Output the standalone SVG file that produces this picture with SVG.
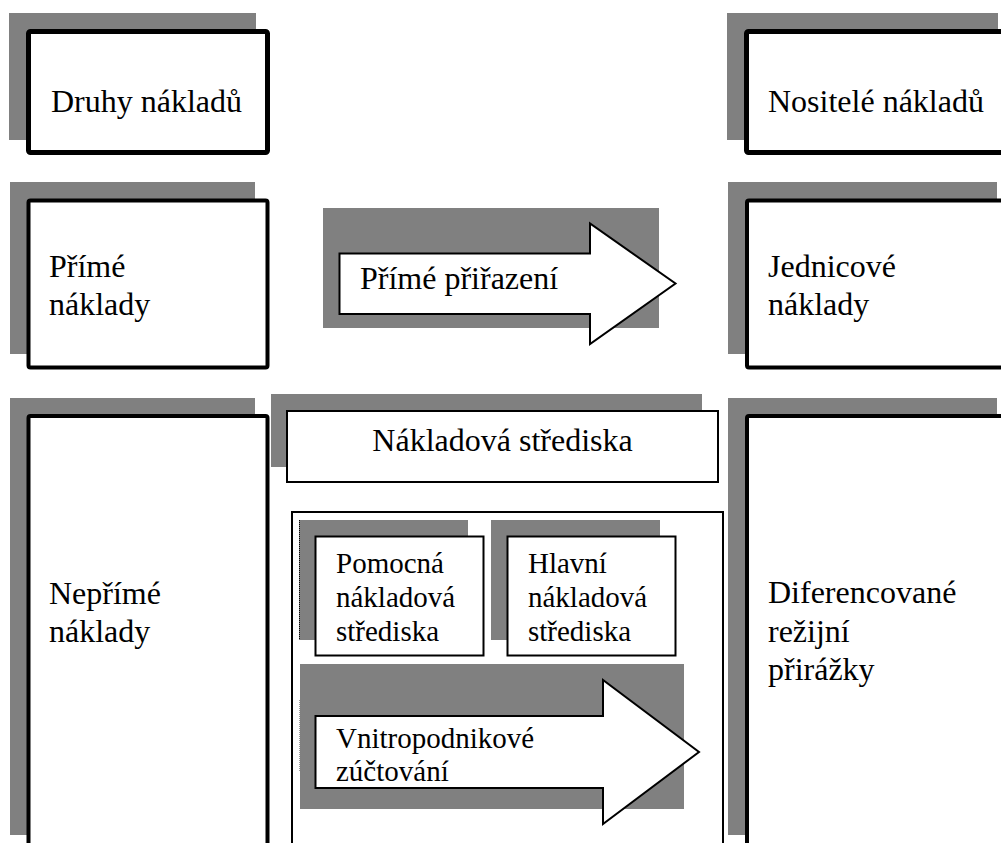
<svg xmlns="http://www.w3.org/2000/svg" width="1001" height="843" viewBox="0 0 1001 843">
<style>
.sh{fill:#808080;stroke:none}
.bx{fill:#fff;stroke:#000}
.b5{stroke-width:5}
.b4{stroke-width:4}
.b2{stroke-width:2}
.t{font-family:'Liberation Serif',Tinos,'Times New Roman','DejaVu Serif',serif;font-size:32px;fill:#000}
.s{font-family:'Liberation Serif',Tinos,'Times New Roman','DejaVu Serif',serif;font-size:29px;fill:#000}
</style>
<rect width="1001" height="843" fill="#fff"/>
<g id="druhy">
<rect class="sh" x="9" y="13" width="247" height="127"/>
<rect class="bx b5" x="28.5" y="31.5" width="239" height="121" rx="2"/>
<text class="t" x="51" y="112">Druhy nákladů</text>
</g>
<g id="nositele">
<rect class="sh" x="727" y="13" width="271" height="127"/>
<rect class="bx b5" x="746.5" y="31.5" width="270" height="121" rx="2"/>
<text class="t" x="768" y="112">Nositelé nákladů</text>
</g>
<g id="prime">
<rect class="sh" x="10" y="182" width="245" height="172"/>
<rect class="bx b4" x="28.5" y="200.5" width="239" height="167" rx="2"/>
<text class="t" x="49" y="277">Přímé</text>
<text class="t" x="49" y="315">náklady</text>
</g>
<g id="jednicove">
<rect class="sh" x="728" y="182" width="269" height="172"/>
<rect class="bx b4" x="747" y="200.5" width="270" height="167" rx="2"/>
<text class="t" x="768" y="277">Jednicové</text>
<text class="t" x="768" y="315">náklady</text>
</g>
<g id="neprime">
<rect class="sh" x="10" y="398" width="245" height="437"/>
<rect class="bx b4" x="28.5" y="416" width="239" height="440" rx="2"/>
<text class="t" x="49" y="604">Nepřímé</text>
<text class="t" x="49" y="642">náklady</text>
</g>
<g id="diferencovane">
<rect class="sh" x="728" y="398" width="269" height="437"/>
<rect class="bx b4" x="747" y="416" width="270" height="440" rx="2"/>
<text class="t" x="768" y="603">Diferencované</text>
<text class="t" x="768" y="642">režijní</text>
<text class="t" x="768" y="680">přirážky</text>
</g>
<g id="strediska">
<rect class="sh" x="271" y="394" width="431" height="73"/>
<rect class="bx b2" x="287" y="411" width="431" height="71"/>
<text class="t" x="502.5" y="451" text-anchor="middle">Nákladová střediska</text>
</g>
<g id="kontejner">
<rect class="bx b2" x="292" y="512" width="431" height="345"/>
</g>
<g id="pomocna">
<rect class="sh" x="299" y="520" width="169" height="120"/>
<line x1="299.5" y1="520" x2="299.5" y2="640" stroke="#000" stroke-width="1" stroke-dasharray="1 1"/>
<rect class="bx b2" x="315.5" y="536.5" width="168" height="119"/>
<text class="s" x="336" y="573">Pomocná</text>
<text class="s" x="336" y="607">nákladová</text>
<text class="s" x="336" y="641">střediska</text>
</g>
<g id="hlavni">
<rect class="sh" x="491" y="520" width="169" height="120"/>
<rect class="bx b2" x="507.5" y="536.5" width="168" height="119"/>
<text class="s" x="528" y="573">Hlavní</text>
<text class="s" x="528" y="607">nákladová</text>
<text class="s" x="528" y="641">střediska</text>
</g>
<g id="connectors">
<g id="prime-prirazeni">
<rect class="sh" x="323" y="208" width="336" height="120"/>
<path class="bx b2" d="M339.5 253.5 H590 V223.5 L675.5 283.5 L590 344 V314 H339.5 Z"/>
<text class="t" x="360" y="289">Přímé přiřazení</text>
</g>
<g id="vnitropodnikove">
<rect class="sh" x="300" y="664" width="384" height="145"/>
<line x1="299.5" y1="700" x2="299.5" y2="772" stroke="#999" stroke-width="1" stroke-dasharray="1 1"/>
<path class="bx b2" d="M315.5 716 H603 V680 L699 752 L603 824 V788 H315.5 Z"/>
<text class="s" x="336" y="748">Vnitropodnikové</text>
<text class="s" x="336" y="781">zúčtování</text>
</g>
</g>
</svg>
